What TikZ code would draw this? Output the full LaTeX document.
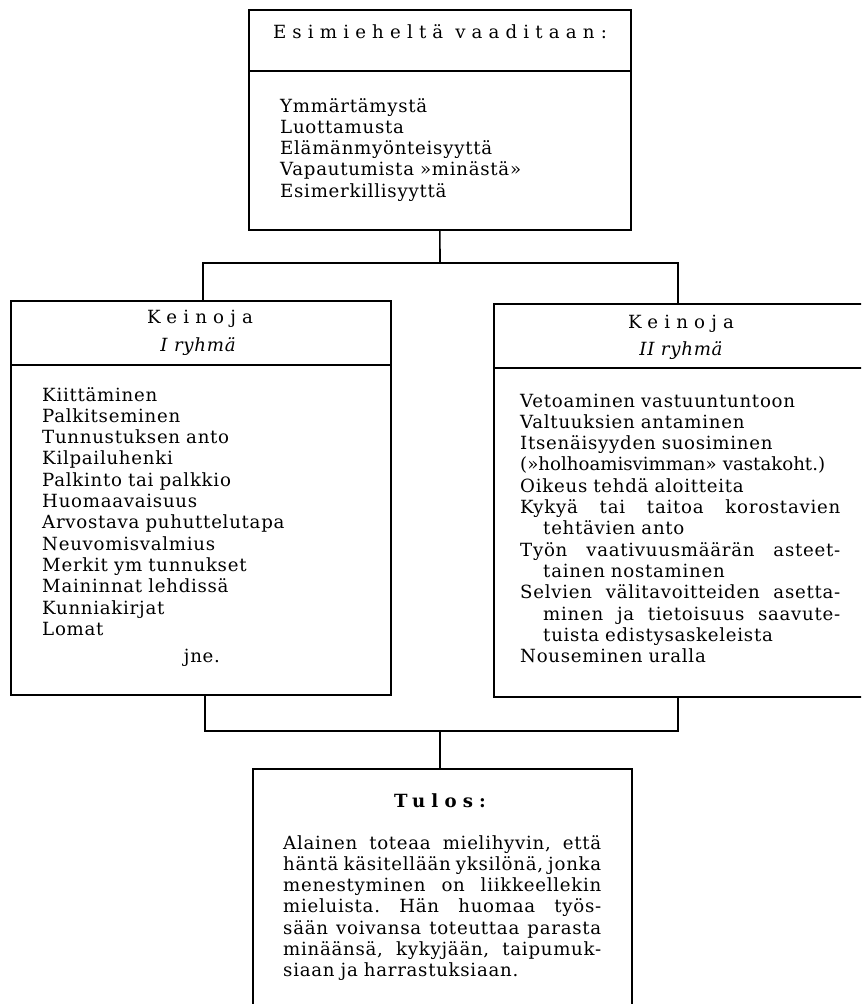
\documentclass[tikz,border=0pt]{standalone}
\usepackage{fontspec}
\setmainfont{DejaVu Serif}[LetterSpace=4]
\newfontfamily\spacedfont[LetterSpace=34]{DejaVu Serif}

\begin{document}
\begin{tikzpicture}[x=0.03cm, y=-0.03cm,
  box/.style={draw, line width=1.4pt, anchor=north west, inner sep=0pt},
  head/.style={anchor=base, font=\spacedfont\fontsize{15.5}{17}\selectfont},
  items/.style={anchor=base west, align=left, inner sep=0pt, font=\fontsize{15.5}{18.2}\selectfont},
  link/.style={line width=1.4pt}]
\useasboundingbox (0,0) rectangle (861,1004);
\clip (0,0) rectangle (861,1004);

%boxes
\node[box, minimum width=11.46cm, minimum height=6.6cm] (demand) at (248,9) {};
\node[box, minimum width=11.4cm, minimum height=11.82cm] (group1) at (10,300) {};
\node[box, minimum width=11.7cm, minimum height=11.79cm] (group2) at (493,303) {};
\node[box, minimum width=11.37cm, minimum height=8cm] (result) at (252,768) {};
\draw[link] (demand.west |- 0,71) -- (demand.east |- 0,71);
\draw[link] (group1.west |- 0,365) -- (group1.east |- 0,365);
\draw[link] (group2.west |- 0,368) -- (group2.east |- 0,368);

%headings
\node[head] (demandhead) at (440,38) {Esimieheltä vaaditaan:};
\node[head] (head1) at (200,323) {Keinoja};
\node[anchor=base, font=\itshape\fontsize{15.5}{17}\selectfont] (sub1) at (198,351) {I ryhmä};
\node[head] (head2) at (681,328) {Keinoja};
\node[anchor=base, font=\itshape\fontsize{15.5}{17}\selectfont] (sub2) at (681,355) {II ryhmä};
\node[head, font=\spacedfont\bfseries\fontsize{15.5}{17}\selectfont] (resulthead) at (440,807) {Tulos:};

%lists
\node[items, text width=9cm] (demandlist) at (280,112) {Ymmärtämystä\\
  Luottamusta\\
  Elämänmyönteisyyttä\\
  Vapautumista »minästä»\\
  Esimerkillisyyttä};
\node[items, text width=10cm] (list1) at (42,401) {Kiittäminen\\
  Palkitseminen\\
  Tunnustuksen anto\\
  Kilpailuhenki\\
  Palkinto tai palkkio\\
  Huomaavaisuus\\
  Arvostava puhuttelutapa\\
  Neuvomisvalmius\\
  Merkit ym tunnukset\\
  Maininnat lehdissä\\
  Kunniakirjat\\
  Lomat};
\node[anchor=base, font=\fontsize{15.5}{17}\selectfont] (etc) at (202,662) {jne.};
\node[items, text width=9.6cm] (list2) at (520,407) {Vetoaminen vastuuntuntoon\\
  Valtuuksien antaminen\\
  Itsenäisyyden suosiminen\\
  \mbox{\addfontfeature{LetterSpace=0}(»holhoamisvimman» vastakoht.)}\\
  Oikeus tehdä aloitteita\\
  Kykyä\hfill tai\hfill taitoa\hfill korostavien\\
  \hspace*{0.69cm}tehtävien anto\\
  Työn\hfill vaativuusmäärän\hfill asteet-\\
  \hspace*{0.69cm}tainen nostaminen\\
  Selvien\hfill välitavoitteiden\hfill asetta-\\
  \hspace*{0.69cm}minen\hfill ja\hfill tietoisuus\hfill saavute-\\
  \hspace*{0.69cm}tuista edistysaskeleista\\
  Nouseminen uralla};
\node[items, text width=9.54cm] (resulttext) at (283,849) {Alainen\hfill toteaa\hfill mielihyvin,\hfill että\\
  häntä\hfill käsitellään\hfill yksilönä,\hfill jonka\\
  menestyminen\hfill on\hfill liikkeellekin\\
  mieluista.\hfill Hän\hfill huomaa\hfill työs-\\
  sään\hfill voivansa\hfill toteuttaa\hfill parasta\\
  minäänsä,\hfill kykyjään,\hfill taipumuk-\\
  siaan ja harrastuksiaan.};

%connectors
\coordinate (split) at (440,263);
\coordinate (in1) at (group1.north -| 203,0);
\coordinate (in2) at (group2.north -| 678,0);
\draw[link] (demand.south) -- (split);
\draw[link] (in1) |- (split) -| (in2);
\coordinate (merge) at (440,731);
\coordinate (out1) at (group1.south -| 205,0);
\coordinate (out2) at (group2.south -| 678,0);
\draw[link] (out1) |- (merge) -| (out2);
\draw[link] (merge) -- (merge |- result.north);
\end{tikzpicture}
\end{document}
